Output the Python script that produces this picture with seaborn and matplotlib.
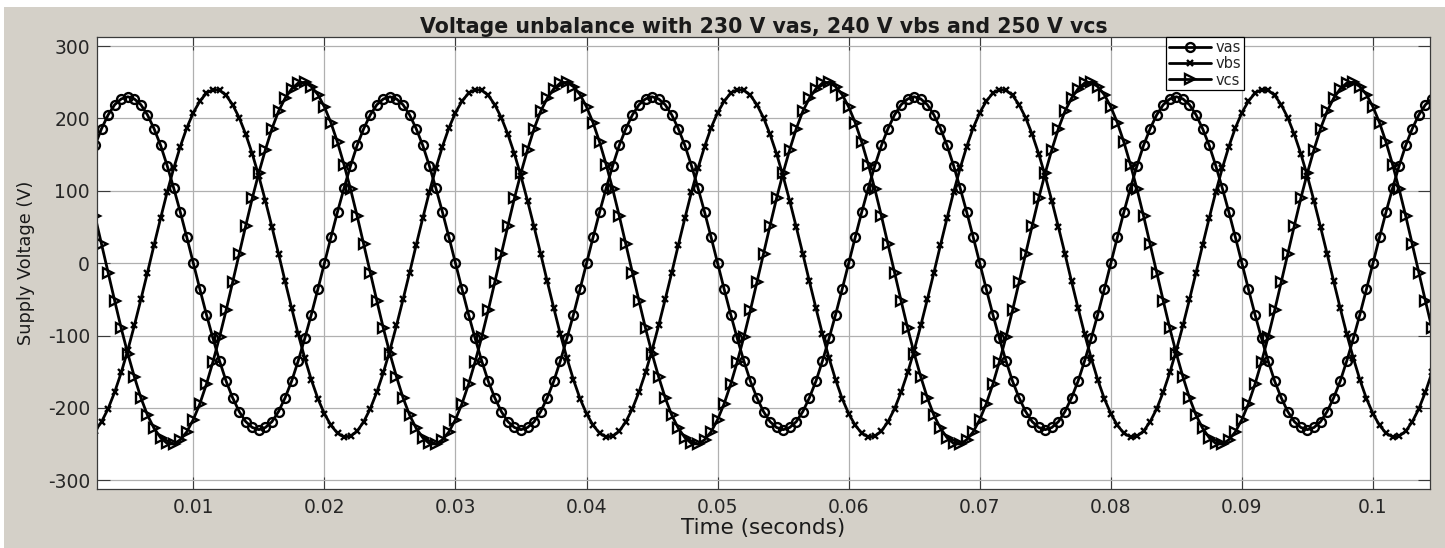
import numpy as np
import pandas as pd
import seaborn as sns
import matplotlib.pyplot as plt
from matplotlib.patches import Rectangle

# sampled supply voltages (V), one sample every 0.5 ms starting at 2.5 ms
t_start = 0.0025
t_step = 0.0005

vas = [163, 186, 205, 219, 227, 230, 227, 219, 205, 186, 163, 135, 104, 71, 36, 0, -36, -71, -104, -135,
       -163, -186, -205, -219, -227, -230, -227, -219, -205, -186, -163, -135, -104, -71, -36, 0, 36, 71, 104, 135,
       163, 186, 205, 219, 227, 230, 227, 219, 205, 186, 163, 135, 104, 71, 36, 0, -36, -71, -104, -135,
       -163, -186, -205, -219, -227, -230, -227, -219, -205, -186, -163, -135, -104, -71, -36, 0, 36, 71, 104, 135,
       163, 186, 205, 219, 227, 230, 227, 219, 205, 186, 163, 135, 104, 71, 36, 0, -36, -71, -104, -135,
       -163, -186, -205, -219, -227, -230, -227, -219, -205, -186, -163, -135, -104, -71, -36, 0, 36, 71, 104, 135,
       163, 186, 205, 219, 227, 230, 227, 219, 205, 186, 163, 135, 104, 71, 36, 0, -36, -71, -104, -135,
       -163, -186, -205, -219, -227, -230, -227, -219, -205, -186, -163, -135, -104, -71, -36, 0, 36, 71, 104, 135,
       163, 186, 205, 219, 227, 230, 227, 219, 205, 186, 163, 135, 104, 71, 36, 0, -36, -71, -104, -135,
       -163, -186, -205, -219, -227, -230, -227, -219, -205, -186, -163, -135, -104, -71, -36, 0, 36, 71, 104, 135,
       163, 186, 205, 219, 227]

vbs = [-232, -219, -201, -178, -151, -120, -86, -50, -13, 25, 62, 98, 131, 161, 187, 208, 224, 235, 240, 239,
       232, 219, 201, 178, 151, 120, 86, 50, 13, -25, -62, -98, -131, -161, -187, -208, -224, -235, -240, -239,
       -232, -219, -201, -178, -151, -120, -86, -50, -13, 25, 62, 98, 131, 161, 187, 208, 224, 235, 240, 239,
       232, 219, 201, 178, 151, 120, 86, 50, 13, -25, -62, -98, -131, -161, -187, -208, -224, -235, -240, -239,
       -232, -219, -201, -178, -151, -120, -86, -50, -13, 25, 62, 98, 131, 161, 187, 208, 224, 235, 240, 239,
       232, 219, 201, 178, 151, 120, 86, 50, 13, -25, -62, -98, -131, -161, -187, -208, -224, -235, -240, -239,
       -232, -219, -201, -178, -151, -120, -86, -50, -13, 25, 62, 98, 131, 161, 187, 208, 224, 235, 240, 239,
       232, 219, 201, 178, 151, 120, 86, 50, 13, -25, -62, -98, -131, -161, -187, -208, -224, -235, -240, -239,
       -232, -219, -201, -178, -151, -120, -86, -50, -13, 25, 62, 98, 131, 161, 187, 208, 224, 235, 240, 239,
       232, 219, 201, 178, 151, 120, 86, 50, 13, -25, -62, -98, -131, -161, -187, -208, -224, -235, -240, -239,
       -232, -219, -201, -178, -151]

vcs = [65, 26, -13, -52, -90, -125, -157, -186, -210, -228, -241, -249, -250, -244, -233, -216, -194, -167, -136, -102,
       -65, -26, 13, 52, 90, 125, 157, 186, 210, 228, 241, 249, 250, 244, 233, 216, 194, 167, 136, 102,
       65, 26, -13, -52, -90, -125, -157, -186, -210, -228, -241, -249, -250, -244, -233, -216, -194, -167, -136, -102,
       -65, -26, 13, 52, 90, 125, 157, 186, 210, 228, 241, 249, 250, 244, 233, 216, 194, 167, 136, 102,
       65, 26, -13, -52, -90, -125, -157, -186, -210, -228, -241, -249, -250, -244, -233, -216, -194, -167, -136, -102,
       -65, -26, 13, 52, 90, 125, 157, 186, 210, 228, 241, 249, 250, 244, 233, 216, 194, 167, 136, 102,
       65, 26, -13, -52, -90, -125, -157, -186, -210, -228, -241, -249, -250, -244, -233, -216, -194, -167, -136, -102,
       -65, -26, 13, 52, 90, 125, 157, 186, 210, 228, 241, 249, 250, 244, 233, 216, 194, 167, 136, 102,
       65, 26, -13, -52, -90, -125, -157, -186, -210, -228, -241, -249, -250, -244, -233, -216, -194, -167, -136, -102,
       -65, -26, 13, 52, 90, 125, 157, 186, 210, 228, 241, 249, 250, 244, 233, 216, 194, 167, 136, 102,
       65, 26, -13, -52, -90]

series_names = ['vas', 'vbs', 'vcs']
series_markers = ['o', 'x', '>']

x_ticks = [0.01, 0.02, 0.03, 0.04, 0.05, 0.06, 0.07, 0.08, 0.09, 0.1]
x_tick_labels = ['0.01', '0.02', '0.03', '0.04', '0.05', '0.06', '0.07', '0.08', '0.09', '0.1']
y_ticks = [-300, -200, -100, 0, 100, 200, 300]
y_tick_labels = ['-300', '-200', '-100', '0', '100', '200', '300']

t = t_start + t_step * np.arange(len(vas))
df = pd.DataFrame({'t': t, 'vas': vas, 'vbs': vbs, 'vcs': vcs})

sns.set_theme(style='ticks')
plt.rcParams['font.family'] = ['DejaVu Sans']
plt.rcParams['axes.unicode_minus'] = False

W, H = 1445, 548
fig = plt.figure(figsize=(W / 100, H / 100), dpi=100, facecolor='white')
# grey matlab-style window background (thin white strip at top/left)
fig.patches.append(Rectangle((4 / W, 0), 1 - 4 / W, (H - 7) / H, transform=fig.transFigure,
                             facecolor='#d4d0c8', edgecolor='none', zorder=-1))
ax = fig.add_axes([97 / W, 1 - 489 / H, (1430 - 97) / W, (489 - 36.7) / H])
ax.set_facecolor('white')

sizes = {'o': 6.4, 'x': 4.8, '>': 7.0}
for name, mk in zip(series_names, series_markers):
    sns.lineplot(data=df, x='t', y=name, ax=ax, color='black', linewidth=2.0,
                 marker=mk, markersize=sizes[mk], mfc='none', mec='black', mew=1.7,
                 sort=False, estimator=None, errorbar=None, label=name)

ax.set_xlim(0.00265, 0.10435)
ax.set_ylim(-312, 313)
ax.set_xticks(x_ticks)
ax.set_xticklabels(x_tick_labels)
ax.set_yticks(y_ticks)
ax.set_yticklabels(y_tick_labels)
ax.grid(True, color='#b0b0b0', linewidth=0.9)
ax.set_axisbelow(True)

for s in ax.spines.values():
    s.set_visible(True)
    s.set_color('#3a3a3a')
    s.set_linewidth(0.9)
ax.tick_params(axis='both', direction='in', length=9, width=0.8, color='#3a3a3a',
               labelsize=13.5, labelcolor='#262626', top=True, right=True)
ax.tick_params(axis='x', pad=6.5)
ax.tick_params(axis='y', pad=5)

ax.set_title('Voltage unbalance with 230 V vas, 240 V vbs and 250 V vcs',
             fontsize=14.8, fontweight='bold', color='#1a1a1a', pad=3.0)
ax.set_xlabel('Time (seconds)', fontsize=15.5, color='#1a1a1a', labelpad=1)
ax.set_ylabel('Supply Voltage (V)', fontsize=12.8, color='#1a1a1a', labelpad=9)

leg = ax.legend(loc='upper left', bbox_to_anchor=(0.802, 1.0), borderaxespad=0,
                fontsize=10.5, frameon=True, fancybox=False, framealpha=1,
                edgecolor='black', handlelength=2.9, handletextpad=0.3,
                borderpad=0.2, labelspacing=0.1, numpoints=1)
leg.get_frame().set_linewidth(0.9)

fig.savefig('out.png', dpi=100, facecolor=fig.get_facecolor())
